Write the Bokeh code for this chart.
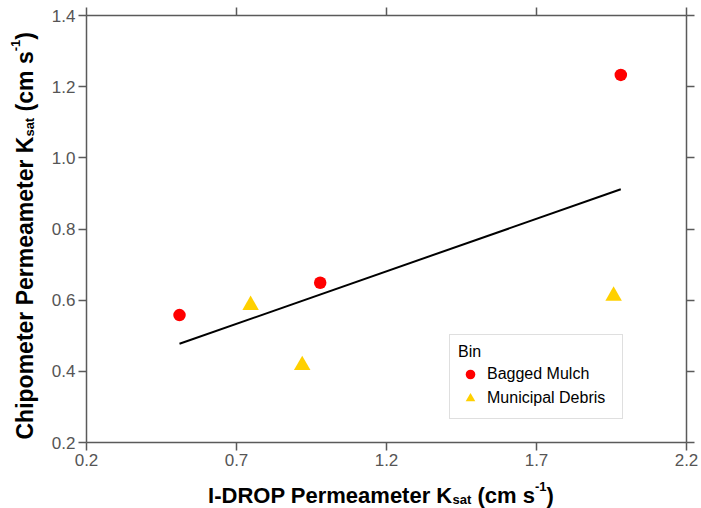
import numpy as np
from bokeh.plotting import figure
from bokeh.layouts import row, column
from bokeh.models import (Label, Legend, LegendItem, LinearAxis, FixedTicker,
                          PrintfTickFormatter, Range1d)
from bokeh.embed import file_html
from bokeh.resources import INLINE

# ---------------- data ----------------
mulch_x = [0.51, 0.979, 1.981]
mulch_y = [0.558, 0.649, 1.233]
debris_x = [0.747, 0.919, 1.957]
debris_y = [0.586, 0.417, 0.612]
x_ticks = [0.2, 0.7, 1.2, 1.7, 2.2]
y_ticks = [0.2, 0.4, 0.6, 0.8, 1.0, 1.2, 1.4]
series_names = ["Bagged Mulch", "Municipal Debris"]
legend_title = "Bin"
x_label_parts = ["I-DROP Permeameter K", "sat", " (cm s", "-1", ")"]
y_label_parts = ["Chipometer Permeameter K", "sat", " (cm s", "-1", ")"]

FONT = "Liberation Sans"
AXIS_COLOR = "#5a5a5a"
TICK_LABEL_COLOR = "#555555"

# ---------------- main plot ----------------
p = figure(width=661, height=475, output_backend="svg", toolbar_location=None,
           x_range=Range1d(0.2, 2.2), y_range=Range1d(0.2, 1.4),
           min_border_left=46, min_border_right=15, min_border_top=15,
           min_border_bottom=33)
p.outline_line_color = None
p.xgrid.visible = False
p.ygrid.visible = False
p.background_fill_color = "white"
p.border_fill_color = "white"


def style_axis(ax, ticks, show_labels):
    ax.ticker = FixedTicker(ticks=ticks)
    ax.formatter = PrintfTickFormatter(format="%.1f")
    ax.axis_line_color = AXIS_COLOR
    ax.axis_line_width = 1.5
    ax.major_tick_line_color = AXIS_COLOR
    ax.major_tick_line_width = 1.5
    ax.major_tick_out = 8
    ax.major_tick_in = 0
    ax.minor_tick_line_color = None
    if show_labels:
        ax.major_label_text_font = FONT
        ax.major_label_text_font_size = "17px"
        ax.major_label_text_color = TICK_LABEL_COLOR
        ax.major_label_standoff = 3
    else:
        ax.major_label_text_font_size = "0px"
        ax.major_label_text_color = None
        ax.major_label_standoff = 0


style_axis(p.xaxis[0], x_ticks, True)
style_axis(p.yaxis[0], y_ticks, True)
top_ax = LinearAxis()
right_ax = LinearAxis()
style_axis(top_ax, x_ticks, False)
style_axis(right_ax, y_ticks, False)
p.add_layout(top_ax, "above")
p.add_layout(right_ax, "right")

# regression line over all points
all_x = np.array(mulch_x + debris_x)
all_y = np.array(mulch_y + debris_y)
coef = np.polyfit(all_x, all_y, 1)
line_x = np.array([all_x.min(), all_x.max()])
p.line(line_x, np.polyval(coef, line_x), line_color="black", line_width=2)

r1 = p.scatter(mulch_x, mulch_y, marker="circle", size=12.5,
               fill_color="#FF0000", line_color=None)
r2 = p.scatter(debris_x, debris_y, marker="triangle", size=16.5,
               fill_color="#FFD000", line_color=None)

legend = Legend(items=[LegendItem(label=series_names[0], renderers=[r1]),
                       LegendItem(label=series_names[1], renderers=[r2])],
                location=(363, 23), title=legend_title)
legend.title_text_font = FONT
legend.title_text_font_size = "16px"
legend.title_text_font_style = "normal"
legend.title_text_color = "black"
legend.title_standoff = 1
legend.label_text_font = FONT
legend.label_text_font_size = "16px"
legend.label_text_color = "black"
legend.padding = 8
legend.margin = 0
legend.spacing = 0
legend.glyph_width = 24
legend.glyph_height = 24
legend.label_height = 24
legend.label_standoff = 5
legend.label_width = 127
legend.border_line_color = "#c0c0c0"
legend.border_line_width = 1
legend.background_fill_color = "white"
legend.background_fill_alpha = 1
p.add_layout(legend)

# ---------------- axis titles (separate small canvases) ----------------
BOLD_W = {'I': 278, '-': 333, 'D': 722, 'R': 722, 'O': 778, 'P': 667, ' ': 278,
          'e': 556, 'r': 389, 'm': 889, 'a': 556, 't': 333, 'K': 722, 's': 556,
          '(': 333, 'c': 556, '1': 556, ')': 333, 'C': 722, 'h': 611, 'i': 278,
          'p': 611, 'o': 611}


def text_w(s, size):
    return sum(BOLD_W.get(ch, 556) for ch in s) * size / 1000.0


def blank_canvas(w, h):
    f = figure(width=w, height=h, output_backend="svg", toolbar_location=None,
               x_axis_location=None, y_axis_location=None,
               min_border=0, x_range=Range1d(0, 1), y_range=Range1d(0, 1))
    f.outline_line_color = None
    f.background_fill_color = "white"
    f.border_fill_color = "white"
    f.grid.visible = False
    return f


def compose(fig, parts, start, base, main_size, small_size, vertical):
    roles = ["main", "sub", "main", "sup", "main"]
    pos = start
    for txt, role in zip(parts, roles):
        size = main_size if role == "main" else small_size
        lead = len(txt) - len(txt.lstrip(" "))
        pos += text_w(" " * lead, size)
        txt = txt.lstrip(" ")
        off = 0.0
        if role == "sub":
            off = -4.5
        elif role == "sup":
            off = 9.3
        if vertical:
            lab = Label(x=base - off, y=pos, angle=np.pi / 2)
        else:
            lab = Label(x=pos, y=base + off)
        lab.x_units = "screen"
        lab.y_units = "screen"
        lab.text = txt
        lab.text_font = FONT
        lab.text_font_style = "bold"
        lab.text_font_size = f"{size}px"
        lab.text_color = "black"
        lab.text_align = "left"
        lab.text_baseline = "alphabetic"
        fig.add_layout(lab)
        pos += text_w(txt, size)


fy = blank_canvas(40, 475)
compose(fy, y_label_parts, 3, 24.5, 23, 13, True)

fx = blank_canvas(701, 33)
compose(fx, x_label_parts, 207.6, 13.2, 22, 13, False)

layout = column(row(fy, p, spacing=0), fx, spacing=0)
open("out.html", "w").write(file_html(layout, INLINE))
